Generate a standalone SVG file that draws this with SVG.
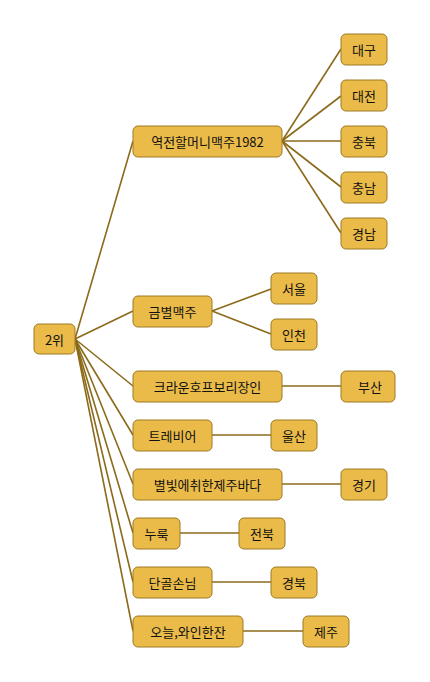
<svg xmlns="http://www.w3.org/2000/svg" width="430" height="682" viewBox="0 0 430 682">
<style>
.n rect{fill:#ebbb4a;stroke:#9c7a22;stroke-width:1}
.n text{font-family:"Noto Sans CJK KR","Noto Sans",sans-serif;font-size:13px;fill:#111;text-anchor:middle;dominant-baseline:central}
.e line{stroke:#8b6a1a;stroke-width:1.6}
</style>
<rect width="430" height="682" fill="#fff"/>
<g class="e">
<line x1="75" y1="339" x2="133" y2="141"/>
<line x1="75" y1="339" x2="133" y2="311"/>
<line x1="75" y1="339" x2="133" y2="386"/>
<line x1="75" y1="339" x2="133" y2="435"/>
<line x1="75" y1="339" x2="133" y2="484"/>
<line x1="75" y1="339" x2="133" y2="533"/>
<line x1="75" y1="339" x2="133" y2="582"/>
<line x1="75" y1="339" x2="133" y2="631"/>
<line x1="282" y1="141" x2="341" y2="49"/>
<line x1="282" y1="141" x2="341" y2="96"/>
<line x1="282" y1="141" x2="341" y2="141"/>
<line x1="282" y1="141" x2="341" y2="187"/>
<line x1="282" y1="141" x2="341" y2="233"/>
<line x1="212" y1="311" x2="271" y2="289"/>
<line x1="212" y1="311" x2="271" y2="334"/>
<line x1="282" y1="386" x2="341" y2="386"/>
<line x1="212" y1="435" x2="271" y2="435"/>
<line x1="282" y1="484" x2="341" y2="484"/>
<line x1="180" y1="533" x2="239" y2="533"/>
<line x1="212" y1="582" x2="271" y2="582"/>
<line x1="243" y1="631" x2="303" y2="631"/>
</g>
<g id="root" class="n"><rect x="34" y="324" width="41" height="30" rx="5"/><text x="54.5" y="339">2위</text></g>
<g id="n1" class="n"><rect x="133" y="126" width="149" height="31" rx="5"/><text x="207.5" y="141.5">역전할머니맥주1982</text></g>
<g id="n2" class="n"><rect x="133" y="296" width="79" height="31" rx="5"/><text x="172.5" y="311.5">금별맥주</text></g>
<g id="n3" class="n"><rect x="133" y="371" width="149" height="31" rx="5"/><text x="207.5" y="386.5">크라운호프보리장인</text></g>
<g id="n4" class="n"><rect x="133" y="420" width="79" height="31" rx="5"/><text x="172.5" y="435.5">트레비어</text></g>
<g id="n5" class="n"><rect x="133" y="469" width="149" height="31" rx="5"/><text x="207.5" y="484.5">별빛에취한제주바다</text></g>
<g id="n6" class="n"><rect x="133" y="518" width="47" height="31" rx="5"/><text x="156.5" y="533.5">누룩</text></g>
<g id="n7" class="n"><rect x="133" y="567" width="79" height="31" rx="5"/><text x="172.5" y="582.5">단골손님</text></g>
<g id="n8" class="n"><rect x="133" y="616" width="110" height="31" rx="5"/><text x="188" y="631.5">오늘,와인한잔</text></g>
<g id="daegu" class="n"><rect x="341" y="34" width="46" height="31" rx="5"/><text x="364" y="49.5">대구</text></g>
<g id="daejeon" class="n"><rect x="341" y="80" width="46" height="31" rx="5"/><text x="364" y="95.5">대전</text></g>
<g id="chungbuk" class="n"><rect x="341" y="126" width="46" height="31" rx="5"/><text x="364" y="141.5">충북</text></g>
<g id="chungnam" class="n"><rect x="341" y="172" width="46" height="31" rx="5"/><text x="364" y="187.5">충남</text></g>
<g id="gyeongnam" class="n"><rect x="341" y="218" width="46" height="31" rx="5"/><text x="364" y="233.5">경남</text></g>
<g id="seoul" class="n"><rect x="271" y="273" width="46" height="31" rx="5"/><text x="294" y="288.5">서울</text></g>
<g id="incheon" class="n"><rect x="271" y="319" width="46" height="31" rx="5"/><text x="294" y="334.5">인천</text></g>
<g id="busan" class="n"><rect x="341" y="371" width="54" height="31" rx="5"/><text x="370" y="386.5">부산</text></g>
<g id="ulsan" class="n"><rect x="271" y="420" width="46" height="31" rx="5"/><text x="294" y="435.5">울산</text></g>
<g id="gyeonggi" class="n"><rect x="341" y="469" width="46" height="31" rx="5"/><text x="364" y="484.5">경기</text></g>
<g id="jeonbuk" class="n"><rect x="239" y="518" width="46" height="31" rx="5"/><text x="262" y="533.5">전북</text></g>
<g id="gyeongbuk" class="n"><rect x="271" y="567" width="46" height="31" rx="5"/><text x="294" y="582.5">경북</text></g>
<g id="jeju" class="n"><rect x="303" y="616" width="46" height="31" rx="5"/><text x="326" y="631.5">제주</text></g>
</svg>
